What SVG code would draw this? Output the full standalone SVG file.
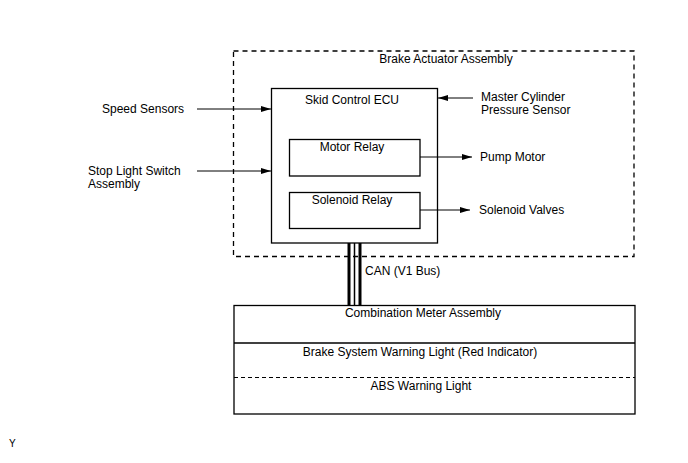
<svg xmlns="http://www.w3.org/2000/svg" width="688" height="463" viewBox="0 0 688 463">
<style>
text{font-family:"Liberation Sans",Arial,sans-serif;font-size:12px;fill:#000}
.c{text-anchor:middle}
.box{fill:none;stroke:#000;stroke-width:1.3}
.dash{fill:none;stroke:#000;stroke-width:1.3;stroke-dasharray:5,4}
.ln{stroke:#000;stroke-width:1;fill:none}
</style>
<defs>
<marker id="ah" viewBox="0 0 10 6" refX="10" refY="3" markerWidth="10" markerHeight="6" markerUnits="userSpaceOnUse" orient="auto">
<path d="M0,0 L10,3 L0,6 z" fill="#000"/>
</marker>
</defs>
<rect width="688" height="463" fill="#fff"/>
<g id="brake-actuator">
<rect class="dash" x="233.5" y="51" width="400.5" height="205.5"/>
<text class="c" x="446" y="63">Brake Actuator Assembly</text>
</g>
<g id="skid-ecu">
<rect class="box" x="271.5" y="88.5" width="166" height="154.5"/>
<text class="c" x="352" y="104">Skid Control ECU</text>
</g>
<g id="motor-relay">
<rect class="box" x="289.5" y="139.5" width="130.5" height="36.5"/>
<text class="c" x="352" y="151">Motor Relay</text>
</g>
<g id="solenoid-relay">
<rect class="box" x="289.5" y="192.5" width="130.5" height="36"/>
<text class="c" x="352" y="204">Solenoid Relay</text>
</g>
<g id="speed-sensors"><text x="102" y="113">Speed Sensors</text></g>
<g id="stop-light"><text x="88" y="175">Stop Light Switch</text><text x="88" y="188">Assembly</text></g>
<g id="master-cyl"><text x="481" y="101">Master Cylinder</text><text x="481" y="114">Pressure Sensor</text></g>
<g id="pump-motor"><text x="480" y="161">Pump Motor</text></g>
<g id="solenoid-valves"><text x="479" y="214">Solenoid Valves</text></g>
<g id="combination-meter">
<rect class="box" x="234" y="305.5" width="401" height="108.5"/>
<line class="box" x1="234" y1="343" x2="635" y2="343"/>
<line class="ln" x1="234" y1="377.5" x2="635" y2="377.5" stroke-dasharray="4,3"/>
<text class="c" x="423" y="317">Combination Meter Assembly</text>
<text class="c" x="420" y="356">Brake System Warning Light (Red Indicator)</text>
<text class="c" x="421" y="390">ABS Warning Light</text>
</g>
<g id="connectors">
<line class="ln" x1="197" y1="109" x2="271" y2="109" marker-end="url(#ah)"/>
<line class="ln" x1="197" y1="171" x2="271" y2="171" marker-end="url(#ah)"/>
<line class="ln" x1="473" y1="98" x2="438" y2="98" marker-end="url(#ah)"/>
<line class="ln" x1="420" y1="157" x2="472" y2="157" marker-end="url(#ah)"/>
<line class="ln" x1="420" y1="210" x2="470" y2="210" marker-end="url(#ah)"/>
<g id="can-bus">
<line x1="349" y1="243" x2="349" y2="305" stroke="#000" stroke-width="3"/>
<line x1="354.5" y1="243" x2="354.5" y2="305" stroke="#000" stroke-width="1.5"/>
<line x1="360" y1="243" x2="360" y2="305" stroke="#000" stroke-width="3"/>
</g>
<text x="365" y="275">CAN (V1 Bus)</text>
</g>
<text x="9" y="447" style="font-size:10px">Y</text>
</svg>
